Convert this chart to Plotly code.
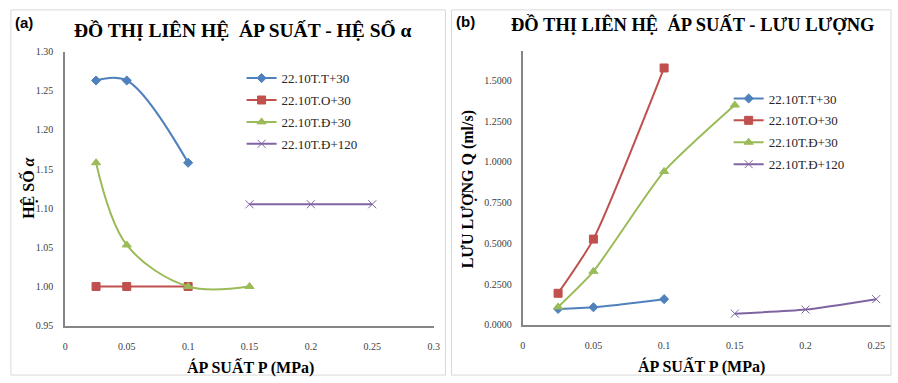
import plotly.graph_objects as go

# ---------------- data ----------------
series_names = ["22.10T.T+30", "22.10T.O+30", "22.10T.Đ+30", "22.10T.Đ+120"]

# chart (a): pressure vs alpha
a_tt_x = [0.025, 0.05, 0.1]
a_tt_y = [1.263, 1.263, 1.158]
a_to_x = [0.025, 0.05, 0.1]
a_to_y = [1.0, 1.0, 1.0]
a_d30_x = [0.025, 0.05, 0.1, 0.15]
a_d30_y = [1.158, 1.053, 1.0, 1.0]
a_d120_x = [0.15, 0.2, 0.25]
a_d120_y = [1.105, 1.105, 1.105]

# chart (b): pressure vs flow
b_tt_x = [0.025, 0.05, 0.1]
b_tt_y = [0.097, 0.107, 0.157]
b_to_x = [0.025, 0.05, 0.1]
b_to_y = [0.193, 0.526, 1.578]
b_d30_x = [0.025, 0.05, 0.1, 0.15]
b_d30_y = [0.109, 0.328, 0.942, 1.350]
b_d120_x = [0.15, 0.2, 0.25]
b_d120_y = [0.068, 0.093, 0.157]

a_xticks = [0, 0.05, 0.1, 0.15, 0.2, 0.25, 0.3]
a_xlabels = ["0", "0.05", "0.1", "0.15", "0.2", "0.25", "0.3"]
a_yticks = [0.95, 1.00, 1.05, 1.10, 1.15, 1.20, 1.25, 1.30]
b_xticks = [0, 0.05, 0.1, 0.15, 0.2, 0.25]
b_xlabels = ["0", "0.05", "0.1", "0.15", "0.2", "0.25"]
b_yticks = [0, 0.25, 0.5, 0.75, 1.0, 1.25, 1.5]

colors = ["#4F81BD", "#C0504D", "#9BBB59", "#8064A2"]
symbols = ["diamond", "square", "triangle-up", "x-thin"]
sizes = [7, 8, 8, 8]

W, H = 898, 383
def px_x(p):
    return p / W
def px_y(p):
    return 1 - p / H

fig = go.Figure()

a_data = [(a_tt_x, a_tt_y), (a_to_x, a_to_y), (a_d30_x, a_d30_y), (a_d120_x, a_d120_y)]
b_data = [(b_tt_x, b_tt_y), (b_to_x, b_to_y), (b_d30_x, b_d30_y), (b_d120_x, b_d120_y)]

for i, (xs, ys) in enumerate(a_data):
    fig.add_trace(go.Scatter(
        x=xs, y=ys, name=series_names[i], mode="lines+markers",
        line=dict(color=colors[i], width=2, shape="spline", smoothing=1.0),
        marker=dict(color=colors[i], symbol=symbols[i], size=sizes[i],
                    line=dict(color=colors[i], width=1)),
        xaxis="x", yaxis="y", legend="legend", legendgroup="a%d" % i))

for i, (xs, ys) in enumerate(b_data):
    fig.add_trace(go.Scatter(
        x=xs, y=ys, name=series_names[i], mode="lines+markers",
        line=dict(color=colors[i], width=2, shape="spline", smoothing=0.6),
        marker=dict(color=colors[i], symbol=symbols[i], size=sizes[i],
                    line=dict(color=colors[i], width=1)),
        xaxis="x2", yaxis="y2", legend="legend2", legendgroup="b%d" % i))

tick_font = dict(family="Liberation Serif", size=10, color="#404040")
axis_common = dict(showgrid=False, zeroline=False, showline=True,
                   linecolor="#868686", linewidth=2, ticks="outside",
                   tickcolor="rgba(0,0,0,0)", tickfont=tick_font)

fig.update_layout(
    width=W, height=H,
    margin=dict(l=0, r=0, t=0, b=0),
    paper_bgcolor="white", plot_bgcolor="white",
    xaxis=dict(domain=[px_x(63), px_x(435)], range=[0, 0.3], ticklen=10,
               tickvals=a_xticks, ticktext=a_xlabels, anchor="y", **axis_common),
    yaxis=dict(domain=[px_y(330), px_y(47)], range=[0.95, 1.30], ticklen=8,
               tickvals=a_yticks, tickformat=".2f", anchor="x", **axis_common),
    xaxis2=dict(domain=[px_x(525), px_x(897)], range=[0, 0.2605], ticklen=10,
                tickvals=b_xticks, ticktext=b_xlabels, anchor="y2", **axis_common),
    yaxis2=dict(domain=[px_y(329), px_y(46)], range=[0, 1.685], ticklen=7,
                tickvals=b_yticks, tickformat=".4f", anchor="x2", **axis_common),
    legend=dict(x=px_x(241), y=px_y(59), xanchor="left", yanchor="top",
                font=dict(family="Liberation Serif", size=13, color="#262626"),
                bgcolor="rgba(0,0,0,0)", traceorder="grouped", tracegroupgap=2,
                itemwidth=30),
    legend2=dict(x=px_x(733), y=px_y(80), xanchor="left", yanchor="top",
                 font=dict(family="Liberation Serif", size=13, color="#262626"),
                 bgcolor="rgba(0,0,0,0)", traceorder="grouped", tracegroupgap=2,
                 itemwidth=30),
    showlegend=True,
)

axt_font = dict(family="Liberation Serif", size=16, color="#000000")
ann = [
    dict(text="<b>ĐỒ THỊ LIÊN HỆ  ÁP SUẤT - HỆ SỐ α</b>", x=px_x(242), y=px_y(25),
         font=dict(family="Liberation Serif", size=19.5, color="#000000")),
    dict(text="<b>ĐỒ THỊ LIÊN HỆ  ÁP SUẤT - LƯU LƯỢNG</b>", x=px_x(696), y=px_y(19),
         font=dict(family="Liberation Serif", size=18.5, color="#000000")),
    dict(text="<b>ÁP SUẤT P (MPa)</b>", x=px_x(250), y=px_y(373), font=axt_font),
    dict(text="<b>ÁP SUẤT P (MPa)</b>", x=px_x(706), y=px_y(372), font=axt_font),
    dict(text="<b>HỆ SỐ <i>α</i></b>", x=px_x(25), y=px_y(188), textangle=-90, font=axt_font),
    dict(text="<b>LƯU LƯỢNG Q (ml/s)</b>", x=px_x(470), y=px_y(189), textangle=-90, font=axt_font),
]
for a in ann:
    fig.add_annotation(xref="paper", yref="paper", showarrow=False,
                       xanchor="center", yanchor="middle", **a)

lab_font = dict(family="Liberation Sans", size=15, color="#000000")
fig.add_annotation(text="<b>(a)</b>", xref="paper", yref="paper", x=px_x(21), y=px_y(17),
                   showarrow=False, xanchor="center", yanchor="middle", font=lab_font)
fig.add_annotation(text="<b>(b)</b>", xref="paper", yref="paper", x=px_x(467), y=px_y(16),
                   showarrow=False, xanchor="center", yanchor="middle", font=lab_font)

# panel borders
fig.add_shape(type="rect", xref="paper", yref="paper", x0=px_x(8), x1=px_x(447),
              y0=px_y(381), y1=px_y(4), line=dict(color="#D9D9D9", width=1))
fig.add_shape(type="rect", xref="paper", yref="paper", x0=px_x(453), x1=px_x(897),
              y0=px_y(381), y1=px_y(4), line=dict(color="#D9D9D9", width=1))

fig.write_html("out.html")
